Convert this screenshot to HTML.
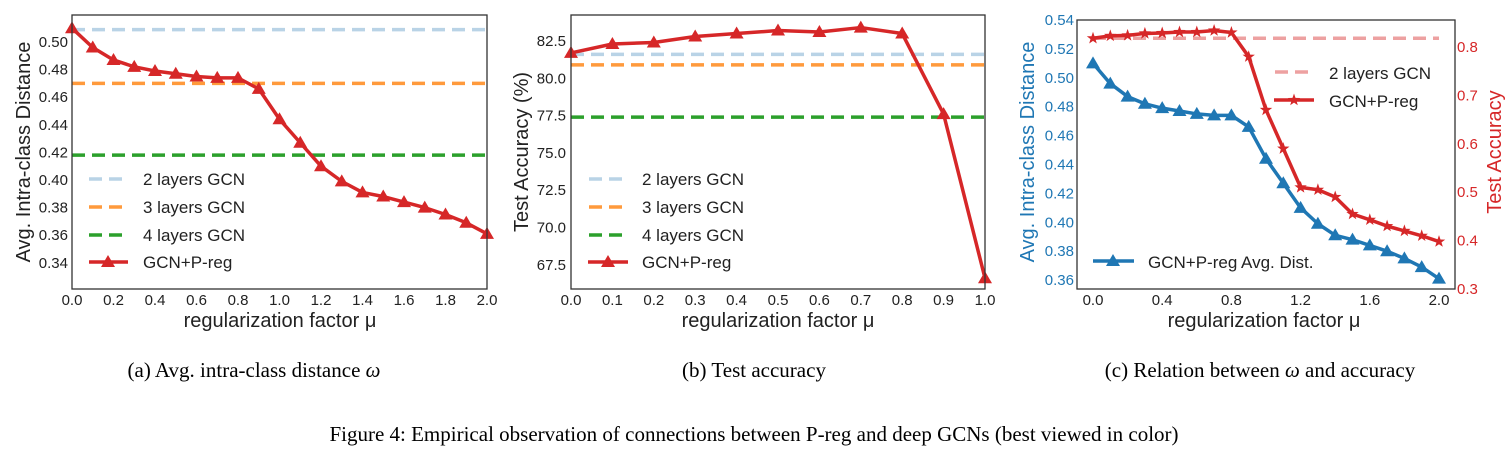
<!DOCTYPE html>
<html><head><meta charset="utf-8">
<style>
html,body{margin:0;padding:0;background:#fff;}
svg text{font-family:"Liberation Sans",sans-serif;}
.cap{font-family:"Liberation Serif",serif;font-size:21px;fill:#000;}
</style></head>
<body>
<svg id="s" width="1508" height="459" xmlns="http://www.w3.org/2000/svg"></svg>
<script>
const S=document.getElementById('s');let h='';
const RED='#d62728',BLUE='#1f77b4',LB='#b9d3e6',OR='#ff9a3c',GR='#2ca02c',PINK='#eda1a1';
function tri(x,y,c){return `<polygon points="${x},${y-7} ${x-7},${y+5} ${x+7},${y+5}" fill="${c}"/>`;}
function star(x,y,c){let p=[];for(let i=0;i<10;i++){let r=i%2?2.6:6.5,a=-Math.PI/2+i*Math.PI/5;p.push((x+r*Math.cos(a)).toFixed(1)+','+(y+r*Math.sin(a)).toFixed(1));}return `<polygon points="${p.join(' ')}" fill="${c}"/>`;}
function line(xs,ys,c,w,m){let s=`<polyline points="${xs.map((x,i)=>x+','+ys[i]).join(' ')}" fill="none" stroke="${c}" stroke-width="${w}" stroke-linejoin="round"/>`;xs.forEach((x,i)=>s+=m(x,ys[i],c));return s;}
function dash(x1,x2,y,c){return `<line x1="${x1}" x2="${x2}" y1="${y}" y2="${y}" stroke="${c}" stroke-width="3.5" stroke-dasharray="13,7"/>`;}
function T(x,y,t,o={}){return `<text x="${x}" y="${y}" font-size="${o.s||15}" fill="${o.c||'#222'}" text-anchor="${o.a||'middle'}" ${o.r?`transform="rotate(-90 ${x} ${y})"`:''}>${t}</text>`;}
// Panel a
{const x0=72,x1=487,yv=v=>42+(0.50-v)/0.02*27.6,xv=u=>x0+u/2*(x1-x0);
h+=dash(x0,x1,yv(0.509),LB)+dash(x0,x1,yv(0.47),OR)+dash(x0,x1,yv(0.418),GR);
const d=[0.51,0.496,0.487,0.482,0.479,0.477,0.475,0.474,0.474,0.466,0.444,0.427,0.410,0.399,0.391,0.388,0.384,0.380,0.375,0.369,0.361];
h+=line(d.map((_,i)=>xv(i*0.1)),d.map(yv),RED,3.5,tri);
h+=`<rect x="${x0}" y="15" width="${x1-x0}" height="274" fill="none" stroke="#333" stroke-width="1.3"/>`;
for(let v=0.34;v<0.505;v+=0.02)h+=T(68,yv(v)+5,v.toFixed(2),{a:'end'});
for(let i=0;i<=10;i++)h+=T(xv(i*0.2),305,(i*0.2).toFixed(1));
h+=T(280,327,'regularization factor μ',{s:20});h+=T(30,152,'Avg. Intra-class Distance',{s:20,r:1});
const L=[['2 layers GCN',LB],['3 layers GCN',OR],['4 layers GCN',GR]];
L.forEach((l,i)=>{let y=179+i*28;h+=dash(89,124,y,l[1])+T(143,y+6,l[0],{s:17,a:'start'});});
h+=`<line x1="89" x2="128" y1="262" y2="262" stroke="${RED}" stroke-width="3.5"/>`+tri(108,262,RED)+T(143,268,'GCN+P-reg',{s:17,a:'start'});}
// Panel b
{const x0=571,x1=985,yv=v=>41+(82.5-v)/2.5*37.3,xv=u=>x0+u*(x1-x0);
h+=dash(x0,x1,yv(81.6),LB)+dash(x0,x1,yv(80.9),OR)+dash(x0,x1,yv(77.4),GR);
const d=[81.7,82.3,82.4,82.8,83.0,83.2,83.1,83.4,83.0,77.6,66.6];
h+=line(d.map((_,i)=>xv(i*0.1)),d.map(yv),RED,3.5,tri);
h+=`<rect x="${x0}" y="15" width="${x1-x0}" height="274" fill="none" stroke="#333" stroke-width="1.3"/>`;
for(let v=67.5;v<83;v+=2.5)h+=T(566,yv(v)+5,v.toFixed(1),{a:'end'});
for(let i=0;i<=10;i++)h+=T(xv(i*0.1),305,(i*0.1).toFixed(1));
h+=T(778,327,'regularization factor μ',{s:20});h+=T(528,152,'Test Accuracy (%)',{s:20,r:1});
const L=[['2 layers GCN',LB],['3 layers GCN',OR],['4 layers GCN',GR]];
L.forEach((l,i)=>{let y=179+i*28;h+=dash(589,624,y,l[1])+T(642,y+6,l[0],{s:17,a:'start'});});
h+=`<line x1="588" x2="628" y1="262" y2="262" stroke="${RED}" stroke-width="3.5"/>`+tri(608,262,RED)+T(642,268,'GCN+P-reg',{s:17,a:'start'});}
// Panel c
{const x0=1077,x1=1455,yl=v=>20+(0.54-v)/0.02*28.9,yr=v=>47+(0.8-v)/0.1*48.4,xv=u=>1093+u/2*346;
h+=dash(1093,1439,yr(0.818),PINK);
const a=[0.818,0.823,0.824,0.828,0.829,0.831,0.831,0.834,0.830,0.78,0.67,0.59,0.51,0.505,0.49,0.455,0.443,0.43,0.42,0.41,0.398];
const d=[0.51,0.496,0.487,0.482,0.479,0.477,0.475,0.474,0.474,0.466,0.444,0.427,0.410,0.399,0.391,0.388,0.384,0.380,0.375,0.369,0.361];
h+=line(d.map((_,i)=>xv(i*0.1)),d.map(yl),BLUE,3.5,tri);
h+=line(a.map((_,i)=>xv(i*0.1)),a.map(yr),RED,3.5,star);
h+=`<rect x="${x0}" y="20" width="${x1-x0}" height="269" fill="none" stroke="#333" stroke-width="1.3"/>`;
for(let v=0.36;v<0.545;v+=0.02)h+=T(1074,yl(v)+5,v.toFixed(2),{a:'end',c:BLUE});
for(let v=0.3;v<0.85;v+=0.1)h+=T(1457,yr(v)+5,v.toFixed(1),{a:'start',c:RED});
for(let i=0;i<=5;i++)h+=T(xv(i*0.4),305,(i*0.4).toFixed(1));
h+=T(1264,327,'regularization factor μ',{s:20});h+=T(1034,152,'Avg. Intra-class Distance',{s:20,r:1,c:BLUE});
h+=T(1501,152,'Test Accuracy',{s:20,r:1,c:RED});
h+=dash(1275,1310,72,PINK)+T(1329,79,'2 layers GCN',{s:17,a:'start'});
h+=`<line x1="1274" x2="1314" y1="100" y2="100" stroke="${RED}" stroke-width="3.5"/>`+star(1294,100,RED)+T(1329,107,'GCN+P-reg',{s:17,a:'start'});
h+=`<line x1="1093" x2="1134" y1="261" y2="261" stroke="${BLUE}" stroke-width="3.5"/>`+tri(1113,261,BLUE)+T(1148,268,'GCN+P-reg Avg. Dist.',{s:17,a:'start'});}
h+=`<text class="cap" x="254" y="377" text-anchor="middle">(a) Avg. intra-class distance <tspan font-style="italic">ω</tspan></text>`;
h+=`<text class="cap" x="754" y="377" text-anchor="middle">(b) Test accuracy</text>`;
h+=`<text class="cap" x="1260" y="377" text-anchor="middle">(c) Relation between <tspan font-style="italic">ω</tspan> and accuracy</text>`;
h+=`<text class="cap" x="754" y="441" text-anchor="middle">Figure 4: Empirical observation of connections between P-reg and deep GCNs (best viewed in color)</text>`;
S.innerHTML=h;
</script>
</body></html>
